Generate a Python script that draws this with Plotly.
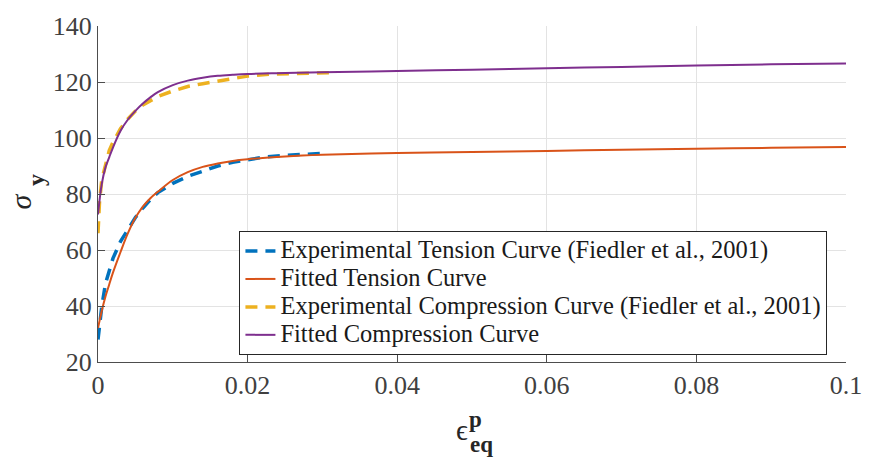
import plotly.graph_objects as go

# ---- data ----
eps_fit = [0, 0.0005, 0.001, 0.0015, 0.002, 0.003, 0.004, 0.005, 0.006, 0.007,
           0.008, 0.010, 0.012, 0.014, 0.016, 0.018, 0.020, 0.025, 0.030, 0.040,
           0.050, 0.060, 0.070, 0.080, 0.090, 0.100]
fit_tension = [32.1, 38.2, 43.4, 47.7, 51.9, 59.2, 66.0, 71.5, 75.5, 78.5,
               80.8, 85.0, 87.8, 89.7, 90.9, 91.8, 92.4, 93.4, 94.0, 94.6,
               95.0, 95.4, 95.8, 96.2, 96.5, 96.8]
fit_compression = [72.7, 83.5, 89.5, 93.1, 96.6, 102.5, 106.6, 109.7, 112.3, 114.5,
                   116.4, 118.9, 120.5, 121.5, 122.2, 122.6, 122.9, 123.2, 123.5, 123.9,
                   124.4, 124.9, 125.4, 125.9, 126.3, 126.6]

eps_exp_t = [0, 0.0005, 0.001, 0.0015, 0.002, 0.003, 0.004, 0.005, 0.006, 0.007,
             0.008, 0.010, 0.012, 0.014, 0.016, 0.018, 0.020, 0.022, 0.025, 0.028, 0.030]
exp_tension = [28.0, 39.7, 48.0, 52.8, 57.0, 63.0, 67.6, 71.6, 75.0, 78.0,
               80.5, 83.8, 86.3, 88.3, 90.0, 91.3, 92.3, 93.1, 93.8, 94.3, 94.5]

eps_exp_c = [0, 0.0002, 0.0005, 0.001, 0.0015, 0.002, 0.003, 0.004, 0.005, 0.006,
             0.007, 0.008, 0.010, 0.012, 0.014, 0.016, 0.018, 0.020, 0.023, 0.027, 0.031]
exp_compression = [66.0, 77.0, 85.0, 90.8, 95.5, 98.5, 103.3, 106.8, 109.6, 111.8,
                   113.4, 114.8, 116.8, 118.4, 119.4, 120.3, 121.3, 122.1, 122.8, 123.2, 123.3]

names = ["Experimental Tension Curve (Fiedler et al., 2001)",
         "Fitted Tension Curve",
         "Experimental Compression Curve (Fiedler et al., 2001)",
         "Fitted Compression Curve"]

x_ticks = [0, 0.02, 0.04, 0.06, 0.08, 0.1]
x_ticktext = ["0", "0.02", "0.04", "0.06", "0.08", "0.1"]
y_ticks = [20, 40, 60, 80, 100, 120, 140]
y_ticktext = ["20", "40", "60", "80", "100", "120", "140"]

SERIF = "Liberation Serif, Times New Roman, Times, serif"


def legend_name(s):
    return "<span style='font-size:24.5px'>" + s + "</span>"


fig = go.Figure()
fig.add_trace(go.Scatter(x=eps_exp_t, y=exp_tension, mode="lines", name=legend_name(names[0]),
                         line=dict(color="#0072BD", width=3.5, dash="12px,8px")))
fig.add_trace(go.Scatter(x=eps_fit, y=fit_tension, mode="lines", name=legend_name(names[1]),
                         line=dict(color="#D95319", width=2, shape="spline")))
fig.add_trace(go.Scatter(x=eps_exp_c, y=exp_compression, mode="lines", name=legend_name(names[2]),
                         line=dict(color="#EDB120", width=3.5, dash="12px,8px")))
fig.add_trace(go.Scatter(x=eps_fit, y=fit_compression, mode="lines", name=legend_name(names[3]),
                         line=dict(color="#7E2F8E", width=2, shape="spline")))

L, R, T, B = 97.6, 856.0, 15.3, 362.3
W, H = 874, 464


def px2paper(px, py):
    return (px - L) / (R - L), (B - py) / (B - T)


LABEL_COLOR = "#262626"
ann = []
# y-axis label: sigma with bold subscript y (rotated)
xa, ya = px2paper(20, 196)
ann.append(dict(text="<i>σ</i>", x=xa, y=ya, xref="paper", yref="paper", showarrow=False,
                textangle=-90, xanchor="center", yanchor="middle",
                font=dict(family=SERIF, size=30, color=LABEL_COLOR)))
xb, yb = px2paper(34, 174)
ann.append(dict(text="<b>y</b>", x=xb, y=yb, xref="paper", yref="paper", showarrow=False,
                textangle=-90, xanchor="center", yanchor="middle",
                font=dict(family=SERIF, size=24, color=LABEL_COLOR)))
# x-axis label: epsilon with bold superscript p and subscript eq
x1, y1 = px2paper(467, 433)
ann.append(dict(text="ϵ", x=x1, y=y1, xref="paper", yref="paper", showarrow=False,
                xanchor="center", yanchor="middle",
                font=dict(family=SERIF, size=29, color=LABEL_COLOR)))
x2, y2 = px2paper(480.5, 422)
ann.append(dict(text="<b>p</b>", x=x2, y=y2, xref="paper", yref="paper", showarrow=False,
                xanchor="center", yanchor="middle",
                font=dict(family=SERIF, size=23, color=LABEL_COLOR)))
x3, y3 = px2paper(486.5, 447)
ann.append(dict(text="<b>eq</b>", x=x3, y=y3, xref="paper", yref="paper", showarrow=False,
                xanchor="center", yanchor="middle",
                font=dict(family=SERIF, size=23, color=LABEL_COLOR)))

lx, ly = px2paper(241, 227)

fig.update_layout(
    width=W, height=H,
    margin=dict(l=L, r=W - R, t=T, b=H - B, pad=0),
    paper_bgcolor="white", plot_bgcolor="white",
    font=dict(family=SERIF, size=26, color="#404040"),
    showlegend=True,
    legend=dict(x=lx, y=ly, xanchor="left", yanchor="top",
                bgcolor="white", bordercolor="#262626", borderwidth=1,
                font=dict(family=SERIF, size=19.2, color="#1a1a1a"),
                tracegroupgap=0, itemwidth=30),
    annotations=ann,
    xaxis=dict(range=[0, 0.1], tickvals=x_ticks, ticktext=x_ticktext,
               showgrid=True, gridcolor="#e3e3e3", gridwidth=1,
               showline=True, linecolor="#4d4d4d", linewidth=1, mirror=False,
               ticks="inside", ticklen=7, tickcolor="#4d4d4d",
               zeroline=False, tickfont=dict(family=SERIF, size=26, color="#404040")),
    yaxis=dict(range=[20, 140], tickvals=y_ticks, ticktext=y_ticktext,
               showgrid=True, gridcolor="#e3e3e3", gridwidth=1,
               showline=True, linecolor="#4d4d4d", linewidth=1, mirror=False,
               ticks="inside", ticklen=7, tickcolor="#4d4d4d",
               zeroline=False, tickfont=dict(family=SERIF, size=26, color="#404040")),
)

fig.write_html("out.html")
